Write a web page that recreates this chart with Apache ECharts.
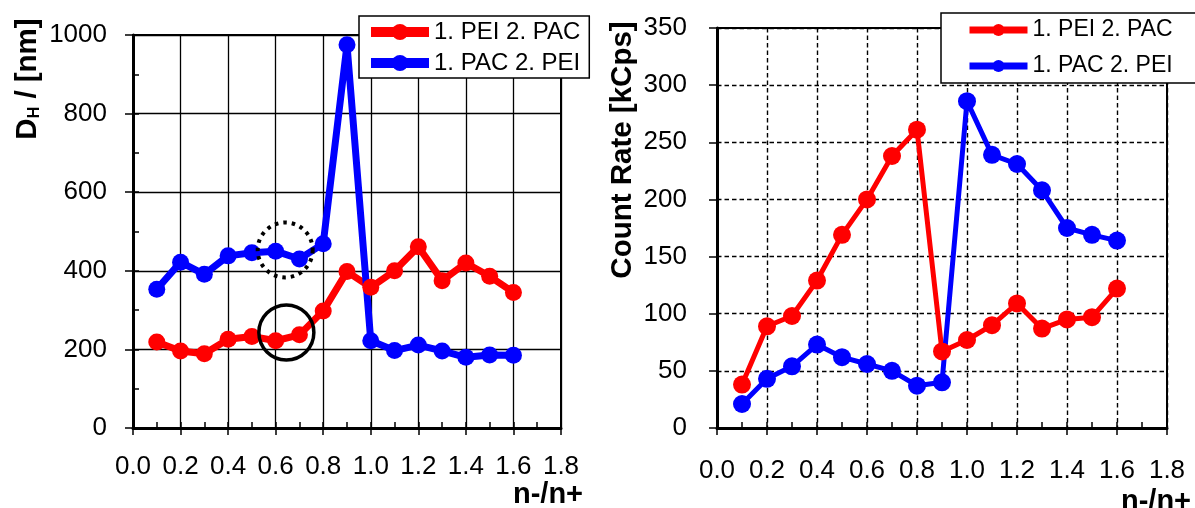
<!DOCTYPE html>
<html>
<head>
<meta charset="utf-8">
<title>PEI / PAC complexes: hydrodynamic diameter and count rate</title>
<script src="https://cdn.jsdelivr.net/npm/echarts@6/dist/echarts.min.js"></script>
<style>
  html, body { margin: 0; padding: 0; background: #fff; }
  #chart { width: 1195px; height: 508px; }
</style>
</head>
<body>
<div id="chart"></div>
<script>
// charge ratio n-/n+ of each sample
const nRatio = [0.1, 0.2, 0.3, 0.4, 0.5, 0.6, 0.7, 0.8, 0.9, 1.0, 1.1, 1.2, 1.3, 1.4, 1.5, 1.6];

const seriesNames = ['1. PEI 2. PAC', '1. PAC 2. PEI'];

// hydrodynamic diameter D_H [nm]
const sizePeiPac = [219, 196, 189, 226, 233, 222, 237, 298, 398, 358, 400, 461, 375, 420, 386, 345];
const sizePacPei = [353, 422, 391, 438, 446, 450, 430, 469, 975, 222, 197, 211, 196, 180, 186, 185];

// count rate [kCps]
const ratePeiPac = [38, 89, 98, 129, 169, 200, 238, 261, 67, 77, 90, 109, 87, 95, 97, 122];
const ratePacPei = [21, 43, 54, 73, 62, 56, 50, 37, 40, 286, 239, 231, 208, 175, 169, 164];

// rings marking the samples around n-/n+ = 0.65 in the size plot
const dottedRing = [0.64, 453];
const solidRing = [0.645, 243];

const RED = '#ff0000';
const BLUE = '#0000ff';
const FONT = '"Liberation Sans", Arial, Helvetica, sans-serif';

// plot rectangles of the two panels
const leftRect = { left: 133, top: 35, width: 428, height: 393 };
const rightRect = { left: 717, top: 28, width: 450, height: 400 };

const pairs = (ys) => nRatio.map((x, i) => [x, ys[i]]);

function mainX(grid, o) {
  return {
    type: 'value', gridIndex: grid, min: 0, max: 1.8, interval: 0.2, position: 'bottom',
    axisLine: { show: true, onZero: false, lineStyle: { color: '#000', width: o.axisWidth } },
    axisTick: { show: true, inside: false, length: 7, lineStyle: { color: '#000', width: 1.5 } },
    axisLabel: { margin: o.labelMargin, fontSize: 26, color: '#000', fontFamily: FONT,
                 formatter: (v) => v.toFixed(1) },
    splitLine: { show: true, lineStyle: { color: '#000', width: o.gridWidth, type: o.gridType } }
  };
}
// top-positioned axis shifted down onto the bottom edge: its outward ticks point into the plot
function minorX(grid, rect) {
  return {
    type: 'value', gridIndex: grid, min: 0, max: 1.8, interval: 0.1, position: 'top',
    offset: -rect.height,
    axisLine: { show: false, onZero: false },
    axisTick: { show: true, inside: false, length: 6, lineStyle: { color: '#000', width: 1.5 } },
    axisLabel: { show: false },
    splitLine: { show: false }
  };
}
function mainY(grid, max, interval, o) {
  return {
    type: 'value', gridIndex: grid, min: 0, max: max, interval: interval, position: 'left',
    axisLine: { show: true, onZero: false, lineStyle: { color: '#000', width: o.axisWidth } },
    axisTick: { show: true, inside: false, length: 8, lineStyle: { color: '#000', width: 1.5 } },
    axisLabel: { margin: o.labelMargin, fontSize: 26, color: '#000', fontFamily: FONT,
                 formatter: (v) => String(v) },
    splitLine: { show: true, lineStyle: { color: '#000', width: o.gridWidth, type: o.gridType } }
  };
}
// right-positioned axis shifted onto the left edge: its outward ticks point into the plot
function minorY(grid, rect, max, interval) {
  return {
    type: 'value', gridIndex: grid, min: 0, max: max, interval: interval, position: 'right',
    offset: -rect.width,
    axisLine: { show: false, onZero: false },
    axisTick: { show: true, inside: false, length: 6, lineStyle: { color: '#000', width: 1.5 } },
    axisLabel: { show: false },
    splitLine: { show: false }
  };
}

function lineSeries(name, xi, yi, data, color, width, size, marks) {
  const s = {
    type: 'line', name: name, xAxisIndex: xi, yAxisIndex: yi, data: data,
    symbol: 'circle', symbolSize: size, showAllSymbol: true,
    lineStyle: { color: color, width: width },
    itemStyle: { color: color },
    emphasis: { disabled: true }
  };
  if (marks) s.markPoint = marks;
  return s;
}
function ringMark(coord, dashed) {
  return {
    coord: coord, symbol: 'circle', symbolSize: 55,
    itemStyle: { color: 'rgba(0,0,0,0)', borderColor: '#000', borderWidth: dashed ? 4 : 3.5,
                 borderType: dashed ? [3.5, 5] : 'solid' },
    label: { show: false }
  };
}
const rings = {
  silent: true, animation: false, z: 5,
  data: [ringMark(dottedRing, true), ringMark(solidRing, false)]
};

const leftStyle = { axisWidth: 3, labelMargin: 26, gridWidth: 1.3, gridType: 'solid' };
const rightStyle = { axisWidth: 3, labelMargin: 30, gridWidth: 1.4, gridType: [4.5, 3] };

const option = {
  animation: false,
  backgroundColor: '#fff',
  grid: [
    Object.assign({ show: true, borderColor: '#000', borderWidth: 2 }, leftRect),
    Object.assign({ show: true, borderColor: '#000', borderWidth: 2 }, rightRect)
  ],
  xAxis: [mainX(0, leftStyle), mainX(1, rightStyle), minorX(0, leftRect), minorX(1, rightRect)],
  yAxis: [mainY(0, 1000, 200, leftStyle), mainY(1, 350, 50, rightStyle), minorY(0, leftRect, 1000, 100)],
  legend: [
    {
      data: seriesNames, orient: 'vertical', left: 359, top: 16,
      padding: [4, 9, 3, 7], itemWidth: 58, itemHeight: 20, itemGap: 7,
      backgroundColor: '#fff', borderColor: '#000', borderWidth: 1.5, borderRadius: 0,
      textStyle: { fontSize: 24, color: '#000', fontFamily: FONT },
      lineStyle: { width: 10 }, selectedMode: false
    },
    {
      data: seriesNames, orient: 'vertical', left: 941, top: 13,
      padding: [5.5, 24, 5.5, 25], itemWidth: 58, itemHeight: 15, itemGap: 13,
      backgroundColor: '#fff', borderColor: '#000', borderWidth: 1.5, borderRadius: 0,
      textStyle: { fontSize: 23, color: '#000', fontFamily: FONT },
      lineStyle: { width: 7 }, selectedMode: false
    }
  ],
  series: [
    lineSeries(seriesNames[0], 0, 0, pairs(sizePeiPac), RED, 7, 17),
    lineSeries(seriesNames[1], 0, 0, pairs(sizePacPei), BLUE, 7, 17, rings),
    lineSeries(seriesNames[0], 1, 1, pairs(ratePeiPac), RED, 5, 18),
    lineSeries(seriesNames[1], 1, 1, pairs(ratePacPei), BLUE, 5, 18)
  ],
  graphic: [
    {
      type: 'text', x: 28, y: 79, rotation: Math.PI / 2,
      style: {
        text: '{b|D}{s|H}{b| / [nm]}',
        rich: {
          b: { fontSize: 29.5, fontWeight: 'bold', fontFamily: FONT, fill: '#000' },
          s: { fontSize: 16, fontWeight: 'bold', fontFamily: FONT, fill: '#000', verticalAlign: 'bottom', lineHeight: 11 }
        },
        align: 'center', verticalAlign: 'middle'
      }
    },
    {
      type: 'text', x: 623, y: 150, rotation: Math.PI / 2,
      style: { text: 'Count Rate [kCps]', fontSize: 29.5, fontWeight: 'bold', fontFamily: FONT,
               fill: '#000', align: 'center', verticalAlign: 'middle' }
    },
    {
      type: 'text', x: 548, y: 495,
      style: { text: 'n-/n+', fontSize: 29, fontWeight: 'bold', fontFamily: FONT,
               fill: '#000', align: 'center', verticalAlign: 'middle' }
    },
    {
      type: 'text', x: 1156, y: 502,
      style: { text: 'n-/n+', fontSize: 29, fontWeight: 'bold', fontFamily: FONT,
               fill: '#000', align: 'center', verticalAlign: 'middle' }
    }
  ]
};

const chart = echarts.init(document.getElementById('chart'), null, { renderer: 'canvas' });
chart.setOption(option);
</script>
</body>
</html>
